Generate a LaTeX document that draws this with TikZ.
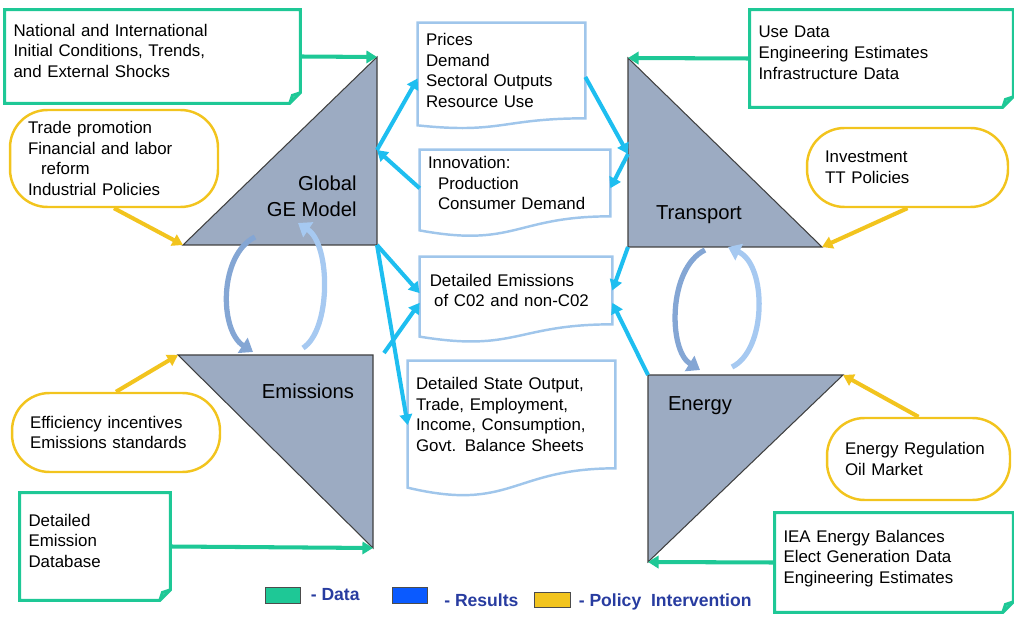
\documentclass[tikz,border=0pt]{standalone}
\usepackage{fontspec}
\setmainfont{Liberation Sans}
\usetikzlibrary{arrows.meta,positioning}
\definecolor{datagreen}{RGB}{30,200,150}
\definecolor{polyellow}{RGB}{242,196,30}
\definecolor{resblue}{RGB}{160,198,235}
\definecolor{rescyan}{RGB}{30,190,240}
\definecolor{trigray}{RGB}{156,171,194}
\definecolor{cycdark}{RGB}{132,166,212}
\definecolor{cyclight}{RGB}{166,201,241}
\definecolor{keyblue}{RGB}{10,90,255}
\definecolor{keytext}{RGB}{40,60,160}

\begin{document}
\begin{tikzpicture}[x=0.02cm, y=-0.02cm]
        \tikzstyle{txt} = [font=\fontsize{9.6}{11.7}\selectfont, align=left, inner ysep=0pt]
        \tikzstyle{databox} = [txt, inner xsep=0.17cm, text depth=30pt]
        \tikzstyle{policybox} = [txt, inner xsep=0.36cm, draw=polyellow, line width=1.4pt, rounded corners=0.75cm]
        \tikzstyle{resultbox} = [txt, inner xsep=0.16cm]
        \tikzstyle{dataline} = [draw=datagreen, line width=1.7pt]
        \tikzstyle{resline} = [draw=resblue, line width=1.4pt]
        \tikzstyle{tri} = [fill=trigray, draw=black!75, line width=0.6pt]
        \tikzstyle{trilabel} = [font=\fontsize{11.5}{14.7}\selectfont, inner sep=0pt]
        \tikzstyle{arrow} = [line width=2.3pt, -{Triangle[length=6pt,width=7pt]}]
        \tikzstyle{dataarrow} = [arrow, datagreen]
        \tikzstyle{polarrow} = [arrow, polyellow]
        \tikzstyle{resarrow} = [arrow, rescyan]
        \tikzstyle{cycarrow} = [line width=3pt, -{Triangle[length=7pt,width=10pt]}]
        \tikzstyle{keybox} = [draw=black!70, line width=0.5pt, minimum width=0.7cm, minimum height=0.32cm, inner sep=0pt]
        \tikzstyle{keytxt} = [font=\fontsize{10}{12}\selectfont\bfseries, text=keytext, inner sep=2pt]

                \useasboundingbox (0,0) rectangle (1014,621);

                % model triangles
                \coordinate (ge-l) at (183,245);
                \coordinate (ge-t) at (377,57);
                \coordinate (ge-br) at (377,245);
                \coordinate (ge-r) at (377,150);
                \coordinate (tr-t) at (628,58);
                \coordinate (tr-bl) at (628,247);
                \coordinate (tr-r) at (822,247);
                \coordinate (tr-l) at (628,154);
                \coordinate (em-l) at (178,355);
                \coordinate (em-tr) at (373,355);
                \coordinate (em-b) at (373,548);
                \coordinate (em-out) at (384,353);
                \coordinate (en-tl) at (648,375);
                \coordinate (en-r) at (843,375);
                \coordinate (en-b) at (648,562);

                \filldraw[tri] (ge-l) -- (ge-t) -- (ge-br) -- cycle;
                \filldraw[tri] (tr-t) -- (tr-bl) -- (tr-r) -- cycle;
                \filldraw[tri] (em-l) -- (em-tr) -- (em-b) -- cycle;
                \filldraw[tri] (en-tl) -- (en-r) -- (en-b) -- cycle;

                \node (gelabel) [trilabel, anchor=east, align=right] at (357,196) {Global\\GE Model};
                \node (trlabel) [trilabel] at (699,215) {Transport};
                \node (emlabel) [trilabel] at (308,391) {Emissions};
                \node (enlabel) [trilabel] at (700,406) {Energy};

                % data
                \node (natl) [databox, text width=5.56cm, minimum height=1.86cm] at (152.5,56.5) {National and International\\Initial Conditions, Trends,\\and External Shocks};
                \node (use) [databox, text width=4.92cm, minimum height=1.94cm] at (881.5,58.5) {Use Data\\Engineering Estimates\\Infrastructure Data};
                \node (emdb) [databox, text width=2.66cm, minimum height=2.14cm] at (95,546.5) {Detailed\\Emission\\Database};
                \node (iea) [databox, text width=4.42cm, minimum height=1.98cm] at (894,562.5) {IEA Energy Balances\\Elect Generation Data\\Engineering Estimates};

                \foreach \n in {natl,use,emdb,iea}
                    \draw[dataline] (\n.north west) -- (\n.north east) -- ([yshift=6pt]\n.south east) -- ([xshift=-6pt]\n.south east) -- (\n.south west) -- cycle
                        ([xshift=-6pt]\n.south east) -- ([xshift=-4.5pt,yshift=4.5pt]\n.south east) -- ([yshift=6pt]\n.south east);

                % policy
                \node (trade) [policybox, text width=3.44cm, minimum height=1.94cm] at (114,158.5) {Trade promotion\\Financial and labor\\\hspace*{7.4pt}reform\\Industrial Policies};
                \node (invest) [policybox, text width=3.30cm, minimum height=1.58cm] at (907.5,167.5) {Investment\\TT Policies};
                \node (effic) [policybox, text width=3.44cm, minimum height=1.58cm] at (116,432.5) {Efficiency incentives\\Emissions standards};
                \node (energyreg) [policybox, text width=2.94cm, minimum height=1.64cm] at (918.5,459) {Energy Regulation\\Oil Market};

                % results
                \node (prices) [resultbox, text width=3.02cm, minimum height=1.9cm] at (501.5,70.5) {Prices\\Demand\\Sectoral Outputs\\Resource Use};
                \node (innov) [resultbox, text width=3.48cm, minimum height=1.32cm] at (515,183) {Innovation:\\\hspace*{5.7pt}Production\\\hspace*{5.7pt}Consumer Demand};
                \node (detem) [resultbox, text width=3.52cm, minimum height=1.34cm] at (516,290.5) {\hspace*{1pt}Detailed Emissions\\\hspace*{3.5pt}of C02 and non-C02};
                \node (state) [resultbox, text width=3.82cm, minimum height=2.14cm] at (511.5,414.5) {Detailed State Output,\\Trade, Employment,\\Income, Consumption,\\Govt. Balance Sheets};

                \foreach \n/\d/\e in {prices/4/9, innov/8/18, detem/7/16, state/11/25}
                    \draw[resline] ([yshift=-\d pt]\n.south west) .. controls ([yshift=-\e pt]\n.south) and (\n.south) .. (\n.south east) -- (\n.north east) -- (\n.north west) -- cycle;

                \draw[dataarrow] (natl.east) -- (ge-t);
                \draw[dataarrow] (use.west) -- (tr-t);
                \draw[dataarrow] (emdb.east) -- (em-b);
                \draw[dataarrow] (iea.west) -- (en-b);

                \draw[polarrow] (trade.south) -- (ge-l);
                \draw[polarrow] (invest.south) -- (tr-r);
                \draw[polarrow] (effic.north) -- (em-l);
                \draw[polarrow] (energyreg.north) -- (en-r);

                \draw[resarrow] (ge-r) -- ([yshift=-4.5pt]prices.west);
                \draw[resarrow] ([yshift=-3pt]innov.west) -- (ge-r);
                \draw[resarrow] ([yshift=-3.7pt]prices.east) -- (tr-l);
                \draw[resarrow] (tr-l) -- ([yshift=-3pt]innov.east);
                \draw[resarrow] (ge-br) -- ([yshift=-1.5pt]detem.west);
                \draw[resarrow] (ge-br) -- ([yshift=-6pt]state.west);
                \draw[resarrow] (em-out) -- ([yshift=-7pt]detem.west);
                \draw[resarrow] (en-tl) -- ([yshift=-7pt]detem.east);
                \draw[resarrow] (tr-bl) -- (detem.east);

                % feedback loops
                \coordinate (cyc1a) at (255,237);
                \coordinate (cyc1b) at (253,352);
                \coordinate (cyc1c) at (303,348);
                \coordinate (cyc1d) at (298,223);
                \coordinate (cyc2a) at (705,250);
                \coordinate (cyc2b) at (700,370);
                \coordinate (cyc2c) at (732,367);
                \coordinate (cyc2d) at (728,247);
                \draw[cycarrow, cycdark] (cyc1a) .. controls (219,255) and (219,330) .. (cyc1b);
                \draw[cycarrow, cyclight] (cyc1c) .. controls (331,330) and (331,245) .. (cyc1d);
                \draw[cycarrow, cycdark] (cyc2a) .. controls (668,268) and (668,350) .. (cyc2b);
                \draw[cycarrow, cyclight] (cyc2c) .. controls (767,350) and (767,265) .. (cyc2d);

                % legend
                \node (keydata) [keybox, fill=datagreen] at (282.5,595) {};
                \node (keydatatxt) [keytxt, right=0.13cm of keydata] {- Data};
                \node (keyres) [keybox, fill=keyblue] at (410,595) {};
                \node (keyrestxt) [keytxt, right=0.25cm of keyres, yshift=-2.8pt] {- Results};
                \node (keypol) [keybox, fill=polyellow, minimum width=0.72cm, minimum height=0.3cm] at (552,599.5) {};
                \node (keypoltxt) [keytxt, right=0.09cm of keypol, yshift=-1.4pt] {- Policy~~Intervention};

    \end{tikzpicture}
\end{document}
